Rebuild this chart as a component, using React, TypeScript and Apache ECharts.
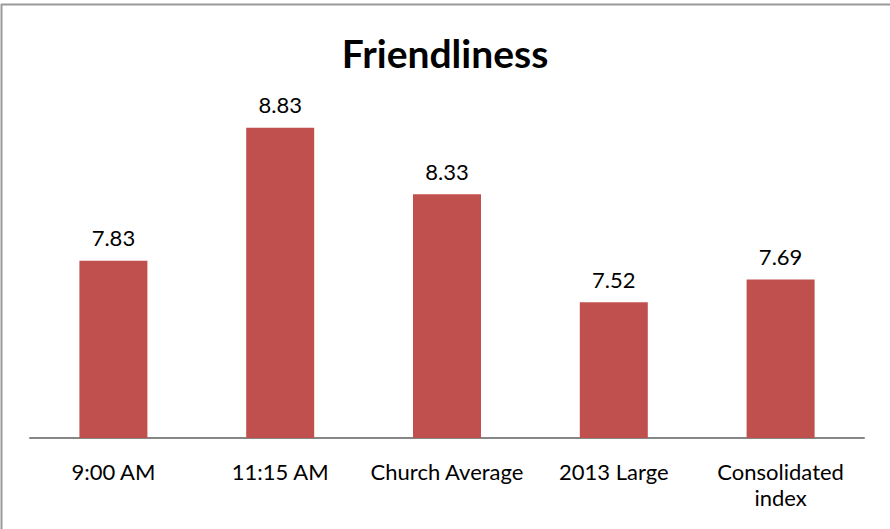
import React, { useEffect, useRef } from "react";
import * as echarts from "echarts";

const categories = ["9:00 AM", "11:15 AM", "Church Average", "2013 Large", "Consolidated\nindex"];
const values = [7.83, 8.83, 8.33, 7.52, 7.69];
const title = "Friendliness";

export default function App() {
  const ref = useRef<HTMLDivElement>(null);
  useEffect(() => {
    const chart = echarts.init(ref.current!, null, { renderer: "svg" });
    chart.setOption({
      animation: false,
      backgroundColor: "#ffffff",
      title: {
        text: title,
        left: "center",
        top: 28,
        textStyle: { fontFamily: "Lato", fontWeight: "bold", fontSize: 39, color: "#000" },
      },
      graphic: [
        { type: "line", shape: { x1: 1, y1: 4.5, x2: 890, y2: 4.5 }, style: { stroke: "#9a9a9a", lineWidth: 2 } },
        { type: "line", shape: { x1: 1.5, y1: 4, x2: 1.5, y2: 529 }, style: { stroke: "#9a9a9a", lineWidth: 2 } },
      ],
      grid: { left: 30, right: 26, top: 105, bottom: 91, containLabel: false },
      xAxis: {
        type: "category",
        data: categories,
        axisLine: { lineStyle: { color: "#868686", width: 2 } },
        axisTick: { show: false },
        axisLabel: {
          fontFamily: "Lato",
          fontSize: 22,
          color: "#000",
          margin: 20,
          lineHeight: 26,
          interval: 0,
        },
      },
      yAxis: { type: "value", min: 6.5, max: 9, show: false, splitLine: { show: false } },
      series: [
        {
          type: "bar",
          data: values,
          barWidth: 68,
          itemStyle: { color: "#C0504D" },
          label: {
            show: true,
            position: "top",
            distance: 12,
            fontFamily: "Lato",
            fontSize: 22,
            color: "#000",
            formatter: (p: any) => p.value.toFixed(2),
          },
        },
      ],
    });
    return () => chart.dispose();
  }, []);
  return (
    <div
      ref={ref}
      style={{ position: "absolute", left: 0, top: 0, width: 890, height: 529 }}
    />
  );
}
